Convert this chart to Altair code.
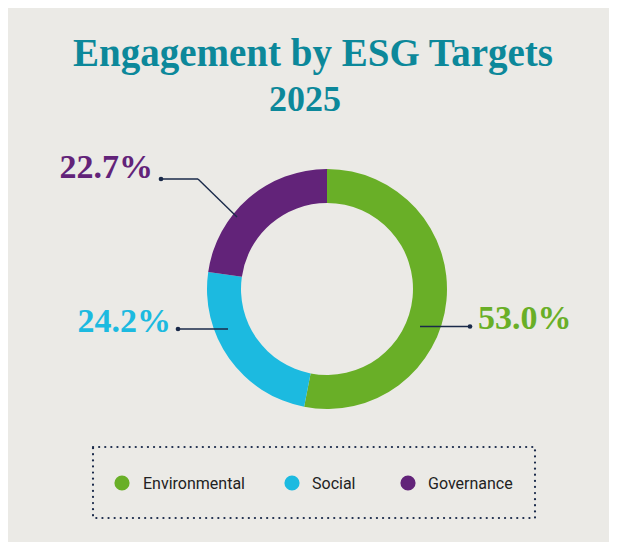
import altair as alt
import pandas as pd

# ---- data ----
categories = ["Environmental", "Social", "Governance"]
shares = [53.0, 24.2, 22.7]
colors = ["#69AF27", "#1CBAE0", "#622379"]
title_text = "Engagement by ESG Targets"
subtitle_text = "2025"

# ---- layout / style constants (page pixels) ----
OFF = 8
W, H = 601, 534
BG = "#EBEAE6"
TEAL = "#0C889A"
NAVY = "#1A2A4A"
SERIF = "Liberation Serif"
SANS = "Roboto"
CX, CY, R_OUT, R_IN = 327, 289, 120, 86

label_pos = {
    "Environmental": (478, 329, "left"),
    "Social": (171, 332, "right"),
    "Governance": (153, 178, "right"),
}
leader_segs = {
    "Environmental": [(420, 326.5, 470, 326.5)],
    "Social": [(178, 329, 228, 329)],
    "Governance": [(161, 179, 198, 179), (198, 179, 237, 217)],
}
leader_dots = {
    "Environmental": (470, 326.5),
    "Social": (178, 329),
    "Governance": (161, 179),
}
legend_sym_x = {"Environmental": 122, "Social": 292, "Governance": 408}
legend_txt_x = {"Environmental": 143, "Social": 312, "Governance": 428}
LEG_Y = 483


def px(v):
    return v - OFF


df = pd.DataFrame({"category": categories, "share": shares, "order": list(range(len(categories)))})
one = pd.DataFrame({"k": [0]})
base = alt.Chart(df)
cscale = alt.Scale(domain=categories, range=colors)
color_enc = alt.Color("category:N", scale=cscale, legend=None)

layers = []

# title
layers.append(
    alt.Chart(one).mark_text(font=SERIF, fontWeight="bold", fontSize=39, color=TEAL,
                             align="center", baseline="alphabetic")
    .encode(text=alt.value(title_text), x=alt.value(px(313)), y=alt.value(px(66)))
)
layers.append(
    alt.Chart(one).mark_text(font=SERIF, fontWeight="bold", fontSize=36, color=TEAL,
                             align="center", baseline="alphabetic")
    .encode(text=alt.value(subtitle_text), x=alt.value(px(305)), y=alt.value(px(111)))
)

# donut
layers.append(
    base.mark_arc(radius=R_OUT, innerRadius=R_IN)
    .encode(theta=alt.Theta("share:Q", stack=True), color=color_enc,
            order=alt.Order("order:Q"), x=alt.value(px(CX)), y=alt.value(px(CY)))
)

for cat in categories:
    sub = base.transform_filter(alt.datum.category == cat)
    for (x1, y1, x2, y2) in leader_segs[cat]:
        layers.append(
            sub.mark_rule(color=NAVY, strokeWidth=1.4)
            .encode(x=alt.value(px(x1)), y=alt.value(px(y1)), x2=alt.value(px(x2)), y2=alt.value(px(y2)))
        )
    dx, dy = leader_dots[cat]
    layers.append(
        sub.mark_point(shape="circle", filled=True, size=22, opacity=1, color=NAVY)
        .encode(x=alt.value(px(dx)), y=alt.value(px(dy)))
    )
    lx, ly, la = label_pos[cat]
    layers.append(
        sub.transform_calculate(label="format(datum.share, '.1f') + '%'")
        .mark_text(font=SERIF, fontWeight="bold", fontSize=34, align=la, baseline="alphabetic")
        .encode(text="label:N", color=color_enc, x=alt.value(px(lx)), y=alt.value(px(ly)))
    )
    # legend item
    layers.append(
        sub.mark_point(shape="circle", filled=True, size=230, opacity=1)
        .encode(color=color_enc, x=alt.value(px(legend_sym_x[cat])), y=alt.value(px(LEG_Y)))
    )
    layers.append(
        sub.mark_text(font=SANS, fontSize=16, color="#222222", align="left", baseline="middle")
        .encode(text="category:N", x=alt.value(px(legend_txt_x[cat])), y=alt.value(px(LEG_Y + 1)))
    )

# dotted legend box
layers.append(
    alt.Chart(one).mark_rect(fillOpacity=0, stroke=NAVY, strokeWidth=2.2,
                             strokeDash=[0.1, 6], strokeCap="round")
    .encode(x=alt.value(px(93)), x2=alt.value(px(535)), y=alt.value(px(447)), y2=alt.value(px(518)))
)

chart = alt.layer(*layers).properties(
    width=W, height=H, padding=0, background=BG
).configure_view(stroke=None)

chart.save("out.html", embed_options={"renderer": "svg", "actions": False})
